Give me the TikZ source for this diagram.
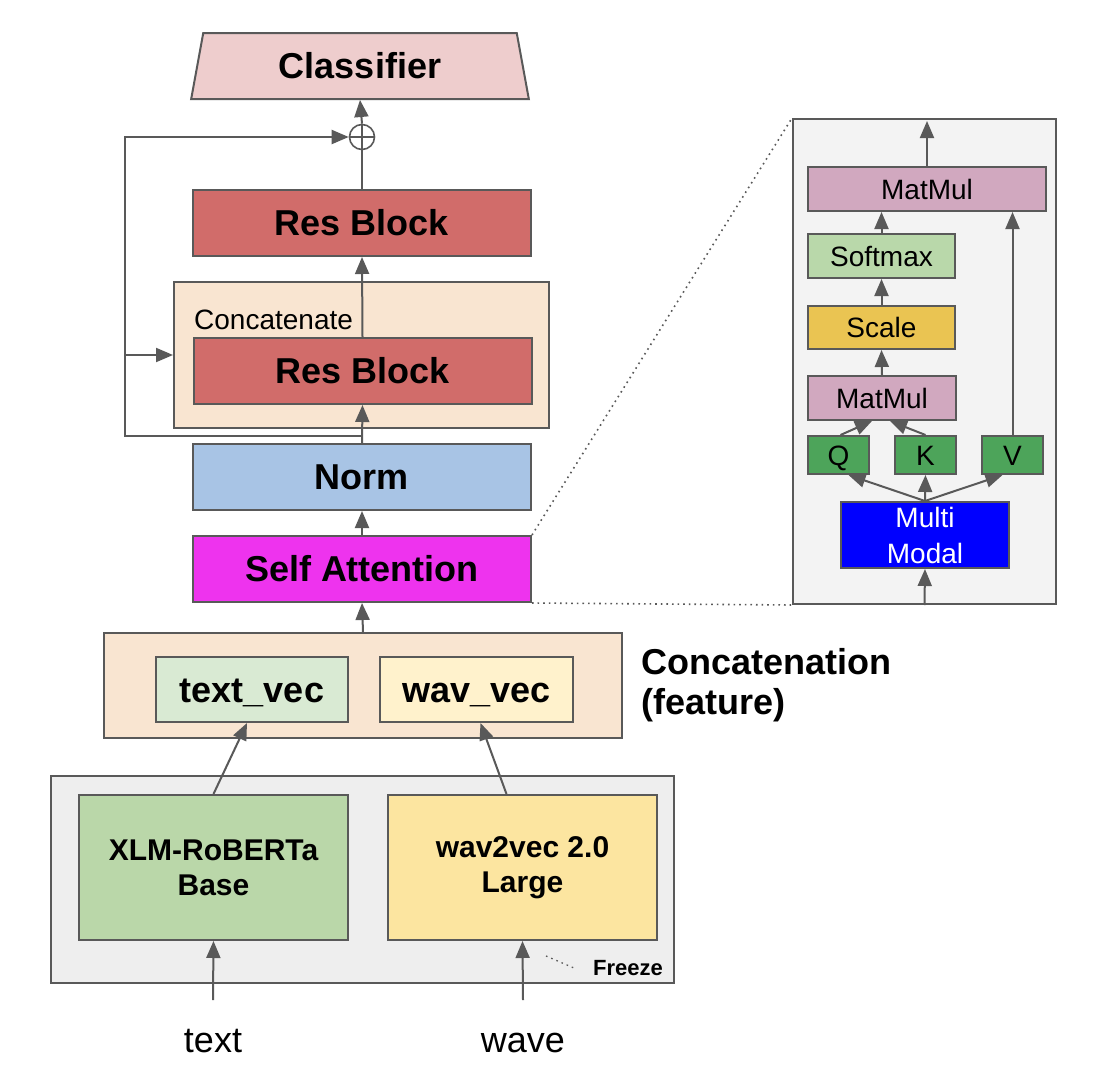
\documentclass[tikz,border=0pt]{standalone}
\usepackage{fontspec}
\setmainfont{Liberation Sans}
\usetikzlibrary{arrows.meta,shapes.geometric}
\definecolor{lc}{HTML}{595959}
\definecolor{cclass}{HTML}{EECDCD}
\definecolor{cres}{HTML}{D16C6A}
\definecolor{cconc}{HTML}{F9E5D1}
\definecolor{cnorm}{HTML}{A8C4E5}
\definecolor{catt}{HTML}{EE33EE}
\definecolor{ctv}{HTML}{D9EAD3}
\definecolor{cwv}{HTML}{FFF2CC}
\definecolor{cfrz}{HTML}{EEEEEE}
\definecolor{cxlm}{HTML}{BAD7A9}
\definecolor{cw2v}{HTML}{FCE5A0}
\definecolor{cpanel}{HTML}{F3F3F3}
\definecolor{cmm}{HTML}{D1A8BF}
\definecolor{csoft}{HTML}{B9D8AA}
\definecolor{cscale}{HTML}{EAC452}
\definecolor{cqkv}{HTML}{4DA45A}
\definecolor{cmulti}{HTML}{0000FF}
\tikzset{
  box/.style={draw=lc, line width=2pt, inner sep=0pt, anchor=center, align=center},
  big/.style={font=\fontsize{36}{42}\selectfont\bfseries},
  bigc/.style={big, text height=25.8pt, text depth=0pt},
  mid/.style={font=\fontsize{30}{35}\selectfont\bfseries},
  small/.style={font=\fontsize{28}{36}\selectfont},
  smallc/.style={small, text height=20pt, text depth=0pt},
  ln/.style={draw=lc, line width=2pt},
  arr/.style={ln, -{Triangle[length=17pt,width=14pt]}},
  dots/.style={draw=lc, line width=1.6pt, dash pattern=on 1.6pt off 4pt},
}
\begin{document}
\begin{tikzpicture}[x=1pt,y=-1pt]
\useasboundingbox[fill=white] (0,0) rectangle (1104,1068);

% main column
\node[box, trapezium, trapezium stretches=true, trapezium left angle=76.4, trapezium right angle=76.4,
      minimum width=338pt, minimum height=66pt, fill=cclass, bigc] (classifier) at (360,66) {Classifier};
\node[draw=lc, line width=1.6pt, circle, minimum size=25pt, inner sep=0pt] (plus) at (362,137) {};
\draw[draw=lc, line width=1.6pt] (plus.north) -- (plus.south) (plus.west) -- (plus.east);
\node[box, minimum width=338pt, minimum height=66pt, fill=cres, bigc] (res1) at (362,223) {Res Block};
\node[box, minimum width=375pt, minimum height=146pt, fill=cconc] (concbox) at (361.5,355) {};
\node[anchor=base west, inner sep=0pt, small] (conclabel) at (194,329) {Concatenate};
\node[box, minimum width=338pt, minimum height=66pt, fill=cres, bigc] (res2) at (362.5,371) {Res Block};
\node[box, minimum width=338pt, minimum height=66pt, fill=cnorm, bigc] (norm) at (362,477) {Norm};
\node[box, minimum width=338pt, minimum height=66pt, fill=catt, bigc] (satt) at (362,569) {Self Attention};

% concatenation (feature)
\node[box, minimum width=518pt, minimum height=105pt, fill=cconc] (cfeat) at (363,685.5) {};
\node[box, minimum width=192pt, minimum height=65pt, fill=ctv, bigc] (tvec) at (252,689.5) {text\_vec};
\node[box, minimum width=193pt, minimum height=65pt, fill=cwv, bigc] (wvec) at (476.5,689.5) {wav\_vec};
\node[anchor=base west, inner sep=0pt, big] (cf1) at (641,674) {Concatenation};
\node[anchor=base west, inner sep=0pt, big] (cf2) at (641,714) {(feature)};

% freeze block
\node[box, minimum width=623pt, minimum height=207pt, fill=cfrz] (frz) at (362.5,879.5) {};
\node[box, minimum width=269pt, minimum height=145pt, fill=cxlm, mid] (xlm) at (213.5,867.5) {XLM-RoBERTa\\Base};
\node[box, minimum width=269pt, minimum height=145pt, fill=cw2v, mid] (w2v) at (522.5,867.5) {wav2vec 2.0\\Large};
\node[anchor=base east, inner sep=0pt, font=\fontsize{22}{26}\selectfont\bfseries] (frzlabel) at (663,975) {Freeze};
\coordinate (fd1) at (546,956);
\coordinate (fd2) at (574,968);
\draw[dots, line width=1.3pt] (fd1) -- (fd2);

% inputs
\node[anchor=base, inner sep=0pt, font=\fontsize{36}{42}\selectfont] (tin) at (213,1052) {text};
\node[anchor=base, inner sep=0pt, font=\fontsize{36}{42}\selectfont] (win) at (523,1052) {wave};
\coordinate (tin0) at (213,1000);
\coordinate (win0) at (523,1000);
\draw[arr] (tin0) -- (xlm.south);
\draw[arr] (win0) -- (w2v.south);
\draw[arr] (xlm.north) -- ([xshift=-5pt]tvec.south);
\draw[arr] ([xshift=-16pt]w2v.north) -- ([xshift=4pt]wvec.south);

% main arrows
\draw[arr] (cfeat.north) -- (satt.south);
\draw[arr] (satt.north) -- (norm.south);
\draw[arr] (norm.north) -- (res2.south);
\draw[arr] (res2.north) -- (res1.south);
\draw[ln] (res1.north) -- (plus.south);
\draw[arr] (plus.north) -- (classifier.south);

% skip connections
\coordinate (sk0) at (362,436);
\coordinate (skL) at (125,436);
\coordinate (skM) at (125,355);
\draw[arr] (sk0) -- (skL) |- (plus.west);
\draw[arr] (skM) -- (concbox.west);

% attention panel
\node[box, minimum width=263pt, minimum height=485pt, fill=cpanel] (panel) at (924.5,361.5) {};
\draw[dots] (satt.north east) -- (panel.north west);
\draw[dots] (satt.south east) -- (panel.south west);
\node[box, minimum width=238pt, minimum height=44pt, fill=cmm, smallc] (mm1) at (927,189) {MatMul};
\node[box, minimum width=147pt, minimum height=44pt, fill=csoft, smallc] (soft) at (881.5,256) {Softmax};
\node[box, minimum width=147pt, minimum height=43pt, fill=cscale, smallc] (scale) at (881.5,327.5) {Scale};
\node[box, minimum width=148pt, minimum height=44pt, fill=cmm, smallc] (mm2) at (882,398) {MatMul};
\node[box, minimum width=61pt, minimum height=38pt, fill=cqkv, smallc] (q) at (838.5,455) {Q};
\node[box, minimum width=61pt, minimum height=38pt, fill=cqkv, smallc] (k) at (925.5,455) {K};
\node[box, minimum width=61pt, minimum height=38pt, fill=cqkv, smallc] (v) at (1012.5,455) {V};
\node[box, minimum width=168pt, minimum height=66pt, fill=cmulti, text=white, small] (mmod) at (925,535) {Multi\\Modal};

\coordinate (pout) at (927,121);
\draw[arr] (panel.south) -- (mmod.south);
\draw[arr] (mmod.north) -- ([xshift=10pt]q.south);
\draw[arr] (mmod.north) -- (k.south);
\draw[arr] (mmod.north) -- ([xshift=-10pt]v.south);
\draw[arr] ([xshift=2pt]q.north) -- ([xshift=-10pt]mm2.south);
\draw[arr] (k.north) -- ([xshift=8pt]mm2.south);
\draw[arr] (mm2.north) -- (scale.south);
\draw[arr] (scale.north) -- (soft.south);
\draw[arr] (soft.north) -- (soft.north |- mm1.south);
\draw[arr] (v.north) -- (v.north |- mm1.south);
\draw[arr] (mm1.north) -- (pout);
\end{tikzpicture}
\end{document}
